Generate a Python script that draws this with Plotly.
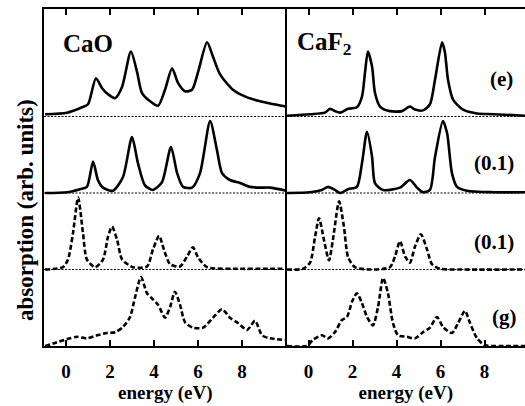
import plotly.graph_objects as go

# ---------- data (energy in eV, absorption relative to each curve's baseline) ----------
cao_e_x = [-0.95,0.05,0.73,1.0,1.36,1.64,1.91,2.23,2.55,2.95,3.23,3.45,3.82,4.18,4.5,4.82,5.09,5.41,5.73,6.0,6.41,6.68,7.0,7.59,8.23,8.82,9.27,10.0]
cao_e_y = [0.03,0.05,0.12,0.16,0.50,0.37,0.29,0.24,0.39,0.85,0.58,0.31,0.20,0.14,0.35,0.63,0.44,0.33,0.35,0.58,0.97,0.78,0.55,0.35,0.25,0.20,0.17,0.13]

cao_s_x = [-0.95,0.05,0.64,0.95,1.23,1.45,1.68,2.14,2.59,3.0,3.27,3.59,3.95,4.36,4.77,5.05,5.32,5.73,6.09,6.55,6.86,7.09,7.45,7.91,8.36,8.82,9.27,10.0]
cao_s_y = [0,0.01,0.05,0.08,0.41,0.17,0.07,0.03,0.21,0.73,0.39,0.10,0.04,0.14,0.60,0.26,0.08,0.07,0.26,0.94,0.56,0.26,0.17,0.13,0.08,0.07,0.07,0.03]

cao_d_x = [-0.95,-0.14,0.09,0.32,0.55,0.77,0.95,1.32,1.68,1.91,2.09,2.32,2.55,3.05,3.68,3.95,4.23,4.45,4.73,5.18,5.5,5.77,6.0,6.41,7.59,9.27,10.0]
cao_d_y = [0,0.03,0.13,0.48,0.94,0.48,0.13,0.03,0.13,0.43,0.56,0.39,0.13,0.03,0.04,0.26,0.44,0.26,0.07,0.04,0.17,0.29,0.16,0.03,0.01,0.01,0.01]

cao_g_x = [-0.95,-0.5,0.05,0.5,0.95,1.41,1.86,2.23,2.59,2.91,3.14,3.41,3.68,3.95,4.18,4.5,4.73,4.95,5.18,5.41,5.77,6.23,6.68,7.09,7.45,7.82,8.23,8.59,8.91,9.27,9.95]
cao_g_y = [0,0.04,0.09,0.12,0.10,0.14,0.17,0.18,0.25,0.38,0.64,0.90,0.69,0.61,0.54,0.37,0.51,0.71,0.54,0.31,0.24,0.24,0.37,0.48,0.37,0.30,0.21,0.33,0.14,0.10,0.08]

caf_e_x = [-0.98,0.07,0.75,0.98,1.2,1.43,1.8,2.2,2.43,2.57,2.7,2.89,3.02,3.25,3.7,4.25,4.61,4.84,5.2,5.52,5.75,6.07,6.2,6.34,6.57,7.02,7.66,8.39,9.84]
caf_e_y = [0.01,0.03,0.05,0.10,0.07,0.05,0.10,0.12,0.26,0.58,0.85,0.65,0.31,0.13,0.07,0.07,0.13,0.09,0.08,0.16,0.48,0.97,0.84,0.48,0.22,0.09,0.04,0.03,0.01]

caf_s_x = [-0.98,0.07,0.61,0.89,1.2,1.43,1.8,2.2,2.43,2.66,2.89,3.02,3.39,4.16,4.61,4.93,5.2,5.52,5.75,6.11,6.3,6.52,6.75,7.2,8.39,9.84]
caf_s_y = [0,0.01,0.04,0.08,0.04,0,0.05,0.08,0.39,0.80,0.47,0.13,0.04,0.07,0.17,0.07,0.01,0.04,0.47,0.94,0.78,0.26,0.08,0.03,0.01,0.01]

caf_d_x = [-0.98,-0.25,0.07,0.3,0.48,0.7,0.93,1.11,1.39,1.61,1.8,2.11,2.8,3.7,3.93,4.16,4.39,4.61,4.84,5.11,5.39,5.61,5.98,6.89,9.84]
caf_d_y = [0,0.01,0.09,0.43,0.67,0.39,0.12,0.39,0.89,0.56,0.16,0.03,0,0.03,0.17,0.37,0.17,0.09,0.30,0.46,0.26,0.07,0.01,0,0]

caf_g_x = [-0.98,-0.07,0.2,0.61,0.89,1.2,1.52,1.75,1.98,2.2,2.43,2.66,2.93,3.16,3.39,3.61,3.84,4.07,4.48,4.84,5.2,5.52,5.84,6.11,6.52,6.8,7.11,7.34,7.66,8.02,8.7,9.84]
caf_g_y = [0,0,0.08,0.14,0.10,0.18,0.34,0.38,0.58,0.69,0.56,0.38,0.27,0.51,0.89,0.69,0.30,0.14,0.12,0.10,0.18,0.24,0.38,0.25,0.17,0.30,0.46,0.30,0.10,0.01,0,0]

offsets = [3, 2, 1, 0]              # vertical stacking of the four spectra
styles = ["solid", "solid", "5px,2.5px", "5px,2.5px"]
labels = ["(e)", "(0.1)", "(0.1)", "(g)"]
label_x = [8.75, 8.43, 8.43, 8.93]
label_y = [3.49, 2.39, 1.36, 0.38]
tick_vals = [0, 2, 4, 6, 8]
tick_text = ["0", "2", "4", "6", "8"]

panels = [
    ("x", "y", [(cao_e_x, cao_e_y), (cao_s_x, cao_s_y), (cao_d_x, cao_d_y), (cao_g_x, cao_g_y)]),
    ("x2", "y2", [(caf_e_x, caf_e_y), (caf_s_x, caf_s_y), (caf_d_x, caf_d_y), (caf_g_x, caf_g_y)]),
]
x_ranges = [[-1, 10.02], [-1, 9.84]]

fig = go.Figure()
for (xa, ya, curves), xr in zip(panels, x_ranges):
    # dotted baselines
    for off in offsets[:3]:
        fig.add_trace(go.Scatter(x=xr, y=[off, off], xaxis=xa, yaxis=ya, mode="lines",
                                 line=dict(color="black", width=1.2, dash="2px,1.5px"),
                                 hoverinfo="skip", showlegend=False))
    for (cx, cy), off, st in zip(curves, offsets, styles):
        fig.add_trace(go.Scatter(x=cx, y=[v + off for v in cy], xaxis=xa, yaxis=ya, mode="lines",
                                 line=dict(color="black", width=2.6, dash=st, shape="spline", smoothing=0.7),
                                 hoverinfo="skip", showlegend=False))

serif = "Liberation Serif"
font_tick = dict(family=serif, size=19, color="black", weight="bold")
axis_common = dict(showline=True, linecolor="black", linewidth=1.5, ticks="inside", ticklen=6,
                   tickwidth=1.5, tickcolor="black", tickvals=tick_vals, ticktext=tick_text,
                   showgrid=False, zeroline=False, mirror="allticks", tickfont=font_tick,
                   ticklabelstandoff=7,
                   title=dict(text="<b>energy (eV)</b>", font=dict(family=serif, size=19, color="black"), standoff=4))
split = 242.5 / 481
fig.update_layout(
    width=525, height=406, margin=dict(l=44, r=0, t=9, b=60),
    paper_bgcolor="white", plot_bgcolor="white",
    xaxis=dict(domain=[0, split], range=x_ranges[0], **axis_common),
    xaxis2=dict(domain=[split, 1], range=x_ranges[1], **axis_common),
    yaxis=dict(range=[0, 4.405], showline=True, linecolor="black", linewidth=1.5, mirror=False,
               showticklabels=False, showgrid=False, zeroline=False, ticks=""),
    yaxis2=dict(range=[0, 4.405], anchor="x2", showline=True, linecolor="black", linewidth=1.5,
                showticklabels=False, showgrid=False, zeroline=False, ticks=""),
)

fig.add_annotation(x=-0.037, y=0.404, xref="paper", yref="paper", text="<b>absorption (arb. units)</b>",
                   textangle=-90, showarrow=False, xanchor="center", yanchor="middle",
                   font=dict(family=serif, size=23, color="black"))
fig.add_annotation(x=-0.25, y=3.95, xref="x", yref="y", text="<b>CaO</b>", showarrow=False,
                   xanchor="left", font=dict(family=serif, size=25, color="black"))
fig.add_annotation(x=-0.6, y=3.95, xref="x2", yref="y2", text="<b>CaF<sub>2</sub></b>", showarrow=False,
                   xanchor="left", font=dict(family=serif, size=25, color="black"))
for t, lx, ly in zip(labels, label_x, label_y):
    fig.add_annotation(x=lx, y=ly, xref="x2", yref="y2", text="<b>" + t + "</b>", showarrow=False,
                       xanchor="center", font=dict(family=serif, size=21, color="black"))

fig.write_html("out.html")
